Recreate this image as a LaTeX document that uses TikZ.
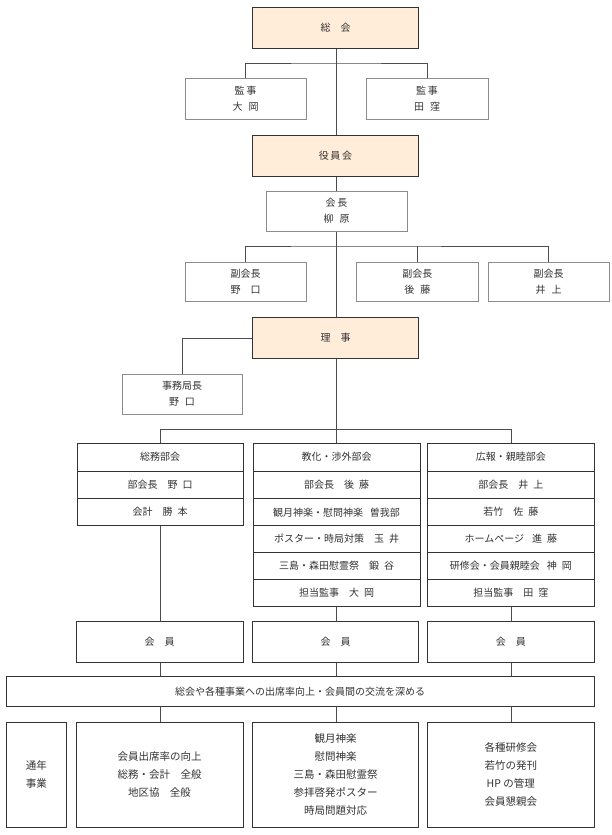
\documentclass[tikz,border=0pt]{standalone}
\usepackage{fontspec}
\newfontfamily\cjk{Noto Sans CJK JP}
\begin{document}
\begin{tikzpicture}[x=1pt,y=-1pt,
  base/.style={draw=black!45,line width=0.9pt,fill=white,inner sep=0pt,outer sep=0pt,align=center,font=\cjk\fontsize{10}{16}\selectfont,text=black!80},
  peach/.style={base,fill=orange!15,draw=black!80},
  dark/.style={base,draw=black!80},
  tall/.style={dark,font=\cjk\fontsize{10.5}{18}\selectfont},
  ln/.style={draw=black!70,line width=0.8pt}]
\useasboundingbox (0,0) rectangle (611,835);
\newcommand{\bx}[7]{\node[#6,minimum width={(#4)-(#2)},minimum height={(#5)-(#3)}] (#1) at ({((#2)+(#4))/2},{((#3)+(#5))/2}) {#7};}
% lines top
\draw[ln] (336,48) -- (336,135);
\draw[ln] (245,78) |- (336,63) -| (427.6,78);
\draw[ln] (336,231) -- (336,317);
\draw[ln] (245,262) |- (336,246) -| (548,262);
\draw[ln] (417,246) -- (417,262);
\draw[ln] (336,176) -- (336,191);
\draw[ln] (252.5,338) -| (182,374);
\draw[ln] (336,358) -- (336,443);
\draw[ln] (160.6,443) |- (336,429.3) -| (511,443);
\draw[ln] (160.6,525) -- (160.6,621);
\draw[ln] (336,606) -- (336,621);
\draw[ln] (511,606) -- (511,621);
\foreach \x in {160.6,336,511}{\draw[ln] (\x,662) -- (\x,676); \draw[ln] (\x,706) -- (\x,722);}
% boxes
\bx{soukai}{252.5}{7.3}{418.5}{48.3}{peach}{総\hspace{1em}会}
\bx{kanji1}{185}{78}{306}{119}{base}{監\,事\\大\hspace{0.6em}岡}
\bx{kanji2}{366}{78}{488}{119}{base}{監\,事\\田\hspace{0.6em}窪}
\bx{yakuin}{252.5}{135}{418.5}{176}{peach}{役\,員\,会}
\bx{kaicho}{266}{191}{407}{231}{base}{会\,長\\柳\hspace{0.6em}原}
\bx{fuku1}{185}{262}{306}{301.5}{base}{副会長\\野\hspace{1em}口}
\bx{fuku2}{356.5}{262}{478}{301.5}{base}{副会長\\後\hspace{0.6em}藤}
\bx{fuku3}{488}{262}{609}{301.5}{base}{副会長\\井\hspace{0.6em}上}
\bx{riji}{252.5}{317}{418.5}{358}{peach}{理\hspace{1em}事}
\bx{jimu}{122}{374}{242}{414}{base}{事務局長\\野\hspace{0.6em}口}
% dept 1
\bx{s0}{77}{443.3}{243}{471}{dark}{総務部会}
\bx{s1}{77}{471}{243}{498.7}{dark}{部会長\hspace{1em}野\hspace{0.5em}口}
\bx{s2}{77}{498.7}{243}{525.7}{dark}{会計\hspace{1em}勝\hspace{0.5em}本}
% dept 2
\bx{k0}{253}{443.3}{420}{471}{dark}{教化・渉外部会}
\bx{k1}{253}{471}{420}{498.7}{dark}{部会長\hspace{1em}後\hspace{0.5em}藤}
\bx{k2}{253}{498.7}{420}{525.7}{dark}{観月神楽・慰問神楽\hspace{0.7em}曽我部}
\bx{k3}{253}{525.7}{420}{552.3}{dark}{ポスター・時局対策\hspace{1em}玉\hspace{0.5em}井}
\bx{k4}{253}{552.3}{420}{579.3}{dark}{三島・森田慰霊祭\hspace{1em}鍛\hspace{0.5em}谷}
\bx{k5}{253}{579.3}{420}{606}{dark}{担当監事\hspace{1em}大\hspace{0.5em}岡}
% dept 3
\bx{h0}{427.6}{443.3}{594}{471}{dark}{広報・親睦部会}
\bx{h1}{427.6}{471}{594}{498.7}{dark}{部会長\hspace{1em}井\hspace{0.5em}上}
\bx{h2}{427.6}{498.7}{594}{525.7}{dark}{若竹\hspace{1em}佐\hspace{0.5em}藤}
\bx{h3}{427.6}{525.7}{594}{552.3}{dark}{ホームページ\hspace{0.8em}進\hspace{0.5em}藤}
\bx{h4}{427.6}{552.3}{594}{579.3}{dark}{研修会・会員親睦会\hspace{0.7em}神\hspace{0.5em}岡}
\bx{h5}{427.6}{579.3}{594}{606}{dark}{担当監事\hspace{1em}田\hspace{0.5em}窪}
% members
\bx{m1}{76}{621}{243}{662}{dark}{会\hspace{1em}員}
\bx{m2}{252.5}{621}{418.5}{662}{dark}{会\hspace{1em}員}
\bx{m3}{427.6}{621}{594}{662}{dark}{会\hspace{1em}員}
\bx{goal}{6}{676.3}{594}{706.3}{dark}{総会や各種事業への出席率向上・会員間の交流を深める}
\bx{tsunen}{6.3}{722}{66.4}{827.7}{tall}{通年\\事業}
\bx{b1}{76}{722}{243}{827.7}{tall}{会員出席率の向上\\総務・会計\hspace{1em}全般\\地区協\hspace{1em}全般}
\bx{b2}{252.5}{722}{418.5}{827.7}{tall}{観月神楽\\慰問神楽\\三島・森田慰霊祭\\参拝啓発ポスター\\時局問題対応}
\bx{b3}{427.6}{722}{594}{827.7}{tall}{各種研修会\\若竹の発刊\\HP の管理\\会員懇親会}
\end{tikzpicture}
\end{document}
